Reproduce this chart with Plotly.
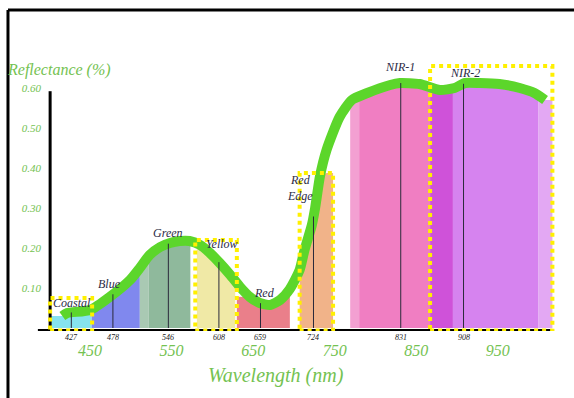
import numpy as np
import plotly.graph_objects as go

# Vegetation reflectance curve (wavelength in nm, reflectance as fraction)
curve_nm = [416, 422, 450, 474, 499, 511, 523, 536, 548, 560, 572, 585, 597, 609,
            622, 634, 646, 658, 671, 683, 695, 707, 713, 722, 726, 732, 740, 756,
            771, 790, 818, 830, 854, 879, 897, 910, 928, 952, 977, 995, 1008]
curve_refl = [0.030, 0.0375, 0.045, 0.0775, 0.12, 0.15, 0.1825, 0.2025, 0.2125,
              0.2175, 0.2175, 0.2075, 0.1875, 0.1625, 0.1325, 0.1025, 0.0775,
              0.0625, 0.0575, 0.07, 0.0975, 0.145, 0.195, 0.2575, 0.30, 0.38,
              0.445, 0.5275, 0.57, 0.5875, 0.6075, 0.6125, 0.61, 0.595, 0.60,
              0.6125, 0.6125, 0.61, 0.60, 0.5875, 0.57]

# Sensor bands
band_names = ["Coastal", "Blue", "Green", "Yellow", "Red", "Red<br>Edge", "NIR-1", "NIR-2"]
band_lo = [401, 452, 511, 581, 630, 707, 769, 867]
band_hi = [452, 511, 573, 628, 695, 748, 867, 1017]
band_center = [427, 478, 546, 608, 659, 724, 831, 908]
band_cap = [None, None, None, None, 0.078, 0.3875, None, None]

# Bands outlined with a dotted yellow frame: (lo, hi, top)
boxed_lo = [401, 579, 707, 867]
boxed_hi = [452.5, 630, 748, 1017]
boxed_top = [0.075, 0.22, 0.3875, 0.655]

x_ticks = [450, 550, 650, 750, 850, 950]
y_ticks = [0.10, 0.20, 0.30, 0.40, 0.50, 0.60]

# Fill colours per band, split into shaded segments (lo, hi, colour)
band_fill = {
    "Coastal": [(401, 452, "#86e3ee")],
    "Blue": [(452, 511, "#8088ee")],
    "Green": [(511, 522, "#a9c9b3"), (522, 573, "#8fb99c")],
    "Yellow": [(581, 628, "#f0e9a6")],
    "Red": [(630, 695, "#ea7f8a")],
    "Red<br>Edge": [(707, 748, "#f1b389")],
    "NIR-1": [(769, 780, "#f3a0d2"), (780, 867, "#f07ec2")],
    "NIR-2": [(867, 895, "#cf52d9"), (895, 1000, "#d683ef"), (1000, 1017, "#e3a8f3")],
}

GREEN_TXT = "#74c251"
SERIF = "Liberation Serif"

cx = np.array(curve_nm, dtype=float)
cy = np.array(curve_refl, dtype=float)

fig = go.Figure()

# Coloured band areas under the curve
for name, cap in zip(band_names, band_cap):
    for lo, hi, col in band_fill[name]:
        inner = cx[(cx > lo) & (cx < hi)]
        xs = np.concatenate([[lo], inner, [hi]])
        ys = np.interp(xs, cx, cy)
        if cap is not None:
            ys = np.minimum(ys, cap)
        px = np.concatenate([xs, [hi, lo]])
        py = np.concatenate([ys, [0, 0]])
        fig.add_trace(go.Scatter(x=px, y=py, mode="lines", fill="toself",
                                 fillcolor=col, line=dict(width=0),
                                 hoverinfo="skip", showlegend=False))

shapes = []

# Centre-wavelength markers
for c in band_center:
    top = float(np.interp(c, cx, cy))
    shapes.append(dict(type="line", xref="x", yref="y", x0=c, x1=c, y0=0, y1=top,
                       line=dict(color="#2a2a3a", width=1), layer="above"))

# Reflectance curve
fig.add_trace(go.Scatter(x=curve_nm, y=curve_refl, mode="lines",
                         line=dict(color="#5cd62b", width=10, shape="spline", smoothing=0.6),
                         hoverinfo="skip", showlegend=False))

# Axes drawn as heavy black strokes
shapes.append(dict(type="line", xref="x", yref="y", x0=386, x1=1019, y0=-0.006, y1=-0.006,
                   line=dict(color="black", width=3), layer="above"))
shapes.append(dict(type="line", xref="x", yref="y", x0=401, x1=401, y0=-0.035, y1=0.592,
                   line=dict(color="black", width=3), layer="above"))

# Major tick marks hanging below the wavelength axis
for t in x_ticks:
    shapes.append(dict(type="line", xref="x", yref="y", x0=t, x1=t, y0=-0.006, y1=-0.036,
                       line=dict(color="black", width=2), layer="above"))

# Dotted yellow band frames
for lo, hi, top in zip(boxed_lo, boxed_hi, boxed_top):
    shapes.append(dict(type="rect", xref="x", yref="y", x0=lo, x1=hi, y0=-0.006, y1=top,
                       line=dict(color="#fff000", width=4, dash="dot"),
                       fillcolor="rgba(0,0,0,0)", layer="above"))

# Outer border (top and left edges)
shapes.append(dict(type="line", xref="paper", yref="paper", x0=-0.0472, x1=1.03,
                   y0=1.134, y1=1.134, line=dict(color="black", width=3)))
shapes.append(dict(type="line", xref="paper", yref="paper", x0=-0.0472, x1=-0.0472,
                   y0=1.134, y1=-0.25, line=dict(color="black", width=3)))

annotations = []

# Band names
label_pos = {
    "Coastal": (428, 0.062), "Blue": (474, 0.11), "Green": (545, 0.238),
    "Yellow": (612, 0.21), "Red": (664, 0.088), "Red<br>Edge": (707, 0.35),
    "NIR-1": (830, 0.652), "NIR-2": (910, 0.637),
}
for name in band_names:
    x, y = label_pos[name]
    annotations.append(dict(x=x, y=y, xref="x", yref="y", text=name, showarrow=False,
                            font=dict(family=SERIF, size=12, color="#2b2b45", style="italic")))

# Centre wavelength values just under the axis (paper y so they stay visible below the range)
for c in band_center:
    annotations.append(dict(x=c, y=-0.0235, xref="x", yref="paper", text=str(c), showarrow=False,
                            xanchor="center", yanchor="middle", borderpad=0,
                            font=dict(family=SERIF, size=8, color="#222222", style="italic")))

# Axis titles
annotations.append(dict(x=0.049, y=0.922, xref="paper", yref="paper", text="Reflectance (%)",
                        showarrow=False, xanchor="center", yanchor="middle",
                        font=dict(family=SERIF, size=16, color=GREEN_TXT, style="italic")))
annotations.append(dict(x=0.458, y=-0.158, xref="paper", yref="paper", text="Wavelength (nm)",
                        showarrow=False, xanchor="center", yanchor="middle",
                        font=dict(family=SERIF, size=20, color=GREEN_TXT, style="italic")))

fig.update_layout(
    width=574, height=398,
    margin=dict(l=33, r=11, t=48, b=67),
    paper_bgcolor="white", plot_bgcolor="white",
    shapes=shapes, annotations=annotations,
    xaxis=dict(range=[380, 1030], tickvals=x_ticks, ticktext=[str(v) for v in x_ticks],
               showgrid=False, zeroline=False, showline=False,
               ticks="", ticklabelstandoff=8,
               tickfont=dict(family=SERIF, size=16, color=GREEN_TXT, style="italic")),
    yaxis=dict(range=[-0.0075, 0.7], tickvals=y_ticks,
               ticktext=["%.2f" % v for v in y_ticks],
               anchor="free", position=0.032, ticklabelstandoff=9,
               showgrid=False, zeroline=False, showline=False, ticks="",
               tickfont=dict(family=SERIF, size=11, color=GREEN_TXT, style="italic")),
)

fig.write_html("out.html", config={"displayModeBar": False})
